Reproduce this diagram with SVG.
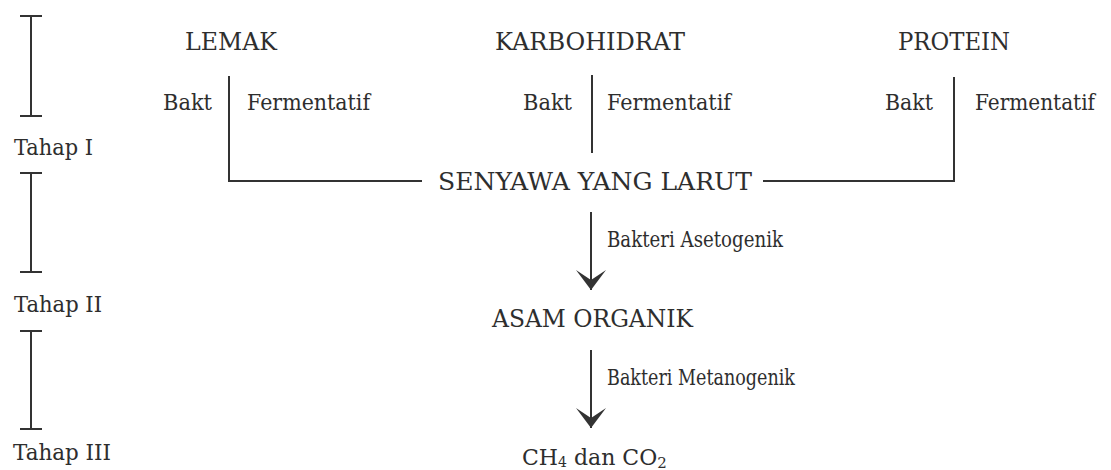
<svg xmlns="http://www.w3.org/2000/svg" width="1111" height="470" viewBox="0 0 1111 470">
  <style>
    text { font-family: "DejaVu Serif", "Liberation Serif", serif; fill: #2e2e2e; }
    .title { font-size: 25px; }
    .label { font-size: 22px; }
    .stage { font-size: 22px; }
    .line { stroke: #333333; stroke-width: 2; fill: none; }
  </style>
  <defs>
    <marker id="arrow" markerUnits="userSpaceOnUse" markerWidth="20" markerHeight="30" viewBox="0 0 20 30" refX="20" refY="15" orient="auto">
      <path d="M0,0 L10,15 L0,30 L20,15 Z" fill="#333333"/>
    </marker>
  </defs>
  <rect x="0" y="0" width="1111" height="470" fill="#ffffff"/>

  <g id="stage-bars">
    <g id="stage1">
      <path class="line" d="M31,16 V116 M20,16 H42 M20,116 H42"/>
      <text class="stage" x="14" y="155" textLength="79" lengthAdjust="spacingAndGlyphs">Tahap I</text>
    </g>
    <g id="stage2">
      <path class="line" d="M31,173 V272 M20,173 H42 M20,272 H42"/>
      <text class="stage" x="14" y="312" textLength="88" lengthAdjust="spacingAndGlyphs">Tahap II</text>
    </g>
    <g id="stage3">
      <path class="line" d="M31,331 V429 M20,331 H42 M20,429 H42"/>
      <text class="stage" x="13" y="460" textLength="98" lengthAdjust="spacingAndGlyphs">Tahap III</text>
    </g>
  </g>

  <g id="connectors">
    <path class="line" d="M229,76 V181 H422"/>
    <path class="line" d="M592,75 V153"/>
    <path class="line" d="M763,181 H954 V77"/>
    <path class="line" d="M591,212 V290" marker-end="url(#arrow)"/>
    <path class="line" d="M591,350 V428" marker-end="url(#arrow)"/>
  </g>

  <g id="lemak">
    <text class="title" x="185" y="50" textLength="92" lengthAdjust="spacingAndGlyphs">LEMAK</text>
    <text class="label" x="163" y="110" textLength="49" lengthAdjust="spacingAndGlyphs">Bakt</text>
    <text class="label" x="247" y="110" textLength="123" lengthAdjust="spacingAndGlyphs">Fermentatif</text>
  </g>
  <g id="karbohidrat">
    <text class="title" x="495" y="50" textLength="190" lengthAdjust="spacingAndGlyphs">KARBOHIDRAT</text>
    <text class="label" x="523" y="110" textLength="49" lengthAdjust="spacingAndGlyphs">Bakt</text>
    <text class="label" x="607" y="110" textLength="124" lengthAdjust="spacingAndGlyphs">Fermentatif</text>
  </g>
  <g id="protein">
    <text class="title" x="898" y="50" textLength="112" lengthAdjust="spacingAndGlyphs">PROTEIN</text>
    <text class="label" x="885" y="110" textLength="48" lengthAdjust="spacingAndGlyphs">Bakt</text>
    <text class="label" x="975" y="110" textLength="120" lengthAdjust="spacingAndGlyphs">Fermentatif</text>
  </g>
  <g id="senyawa">
    <text class="title" x="438" y="190" textLength="314" lengthAdjust="spacingAndGlyphs">SENYAWA YANG LARUT</text>
  </g>
  <g id="asetogenik-label">
    <text class="label" x="607" y="247" textLength="176" lengthAdjust="spacingAndGlyphs">Bakteri Asetogenik</text>
  </g>
  <g id="asam-organik">
    <text class="title" x="492" y="327" textLength="201" lengthAdjust="spacingAndGlyphs">ASAM ORGANIK</text>
  </g>
  <g id="metanogenik-label">
    <text class="label" x="607" y="385" textLength="188" lengthAdjust="spacingAndGlyphs">Bakteri Metanogenik</text>
  </g>
  <g id="produk">
    <text x="522" y="465" font-size="22">CH<tspan font-size="14" dy="2">4</tspan><tspan dy="-2"> dan CO</tspan><tspan font-size="15" dy="3">2</tspan></text>
  </g>
</svg>
